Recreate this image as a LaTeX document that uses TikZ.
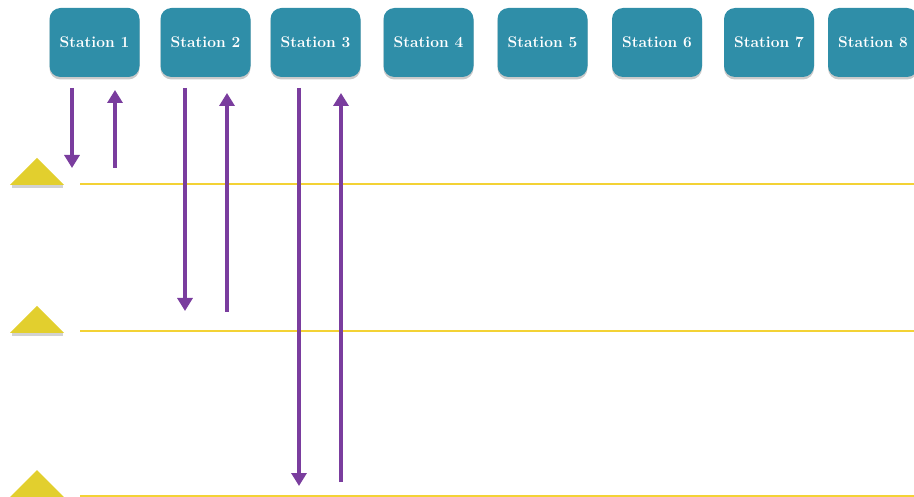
\documentclass[tikz,border=0pt]{standalone}
\usepackage{fontspec}
\usetikzlibrary{shadows,arrows.meta}
\definecolor{stteal}{HTML}{2F8EA8}
\definecolor{lvlyellow}{HTML}{F3D235}
\definecolor{triyellow}{HTML}{E2CF2E}
\definecolor{arrpurple}{HTML}{7A3D9E}
\tikzset{
  stationbox/.style={rectangle, rounded corners=11pt, fill=stteal, minimum width=90pt, minimum height=69pt,
    text=white, font=\fontsize{15.5}{18}\selectfont\bfseries, inner sep=0pt,
    drop shadow={shadow xshift=0pt, shadow yshift=-2.5pt, opacity=0.35, fill=black!60}},
  levelline/.style={draw=lvlyellow, line width=2.8pt},
  marker/.style={fill=triyellow, draw=none},
  flow/.style={draw=arrpurple, line width=3.4pt, -{Triangle[length=13pt,width=15pt]}}
}
\begin{document}
\begin{tikzpicture}[x=1pt,y=-1pt]
\useasboundingbox (0,0) rectangle (914,497);
% stations
\node[stationbox] (s1) at (94.5,42.5) {Station 1};
\node[stationbox] (s2) at (205.5,42.5) {Station 2};
\node[stationbox] (s3) at (315.5,42.5) {Station 3};
\node[stationbox] (s4) at (428.5,42.5) {Station 4};
\node[stationbox] (s5) at (542.5,42.5) {Station 5};
\node[stationbox] (s6) at (657,42.5) {Station 6};
\node[stationbox] (s7) at (769,42.5) {Station 7};
\node[stationbox] (s8) at (873,42.5) {Station 8};
% level lines
\coordinate (l1a) at (80,184); \coordinate (l1b) at (914,184);
\coordinate (l2a) at (80,331); \coordinate (l2b) at (914,331);
\coordinate (l3a) at (80,496); \coordinate (l3b) at (914,496);
\draw[levelline] (l1a) -- (l1b);
\draw[levelline] (l2a) -- (l2b);
\draw[levelline] (l3a) -- (l3b);
% level markers with shadows
\foreach \y/\n in {185/t1,333/t2,497/t3}{
  \fill[black!35, opacity=0.5] (12,\y+0.5) rectangle (63,\y+3);
  \path[marker] (10,\y) -- (37,\y-27) -- (64,\y) -- cycle;
}
% arrow endpoints
\coordinate (a1s) at (72,88);  \coordinate (a1e) at (72,168);
\coordinate (b1s) at (115,168); \coordinate (b1e) at (115,90);
\coordinate (a2s) at (185,88); \coordinate (a2e) at (185,311);
\coordinate (b2s) at (227,312); \coordinate (b2e) at (227,93);
\coordinate (a3s) at (299,88); \coordinate (a3e) at (299,486);
\coordinate (b3s) at (341,482); \coordinate (b3e) at (341,93);
\draw[flow] (a1s) -- (a1e);
\draw[flow] (b1s) -- (b1e);
\draw[flow] (a2s) -- (a2e);
\draw[flow] (b2s) -- (b2e);
\draw[flow] (a3s) -- (a3e);
\draw[flow] (b3s) -- (b3e);
\end{tikzpicture}
\end{document}
